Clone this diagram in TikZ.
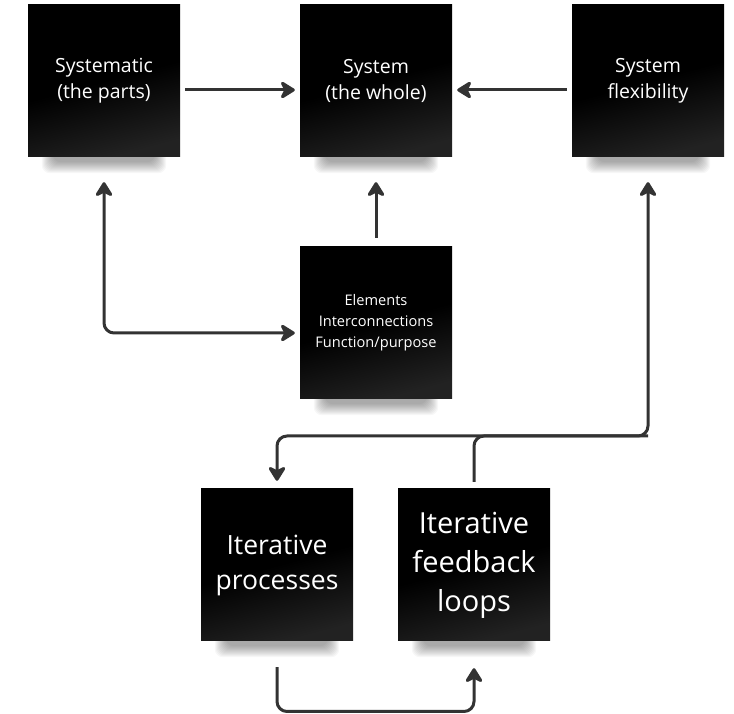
\documentclass[tikz,border=0pt]{standalone}
\usepackage{fontspec}
\setmainfont{Open Sans}
\usetikzlibrary{arrows.meta,calc}
\definecolor{arrc}{HTML}{333333}
\definecolor{boxlow}{HTML}{222222}
\tikzset{
  note/.style={minimum width=152pt, minimum height=152pt, inner sep=0pt,
    top color=black, bottom color=boxlow, middle color=black, shading angle=15,
    text=white, align=center, font=\fontsize{19.5}{26}\selectfont},
  tip/.style={-{Stealth[length=17pt,width=21pt,inset=5pt,round]}},
  arr/.style={draw=arrc, line width=3pt, rounded corners=10pt, tip},
  arrboth/.style={draw=arrc, line width=3pt, rounded corners=10pt,
    {Stealth[length=17pt,width=21pt,inset=5pt,round]}-{Stealth[length=17pt,width=21pt,inset=5pt,round]}},
  ghost/.style={minimum width=152pt, minimum height=152pt},
}
\newcommand{\notesh}[1]{%
  \foreach \k in {0,...,11}{%
    \fill[black, opacity=0.03, rounded corners=8pt]
      ($(#1.south west)+(14+\k,20)$) rectangle ($(#1.south east)+(-14-\k,-16+\k)$);
  }%
}
\begin{document}
\begin{tikzpicture}[x=1pt,y=1pt]
\useasboundingbox (0,0) rectangle (734,714);
\fill[white] (0,0) rectangle (734,714);
\coordinate (cparts) at (104,633);
\coordinate (cwhole) at (376,633);
\coordinate (cflex) at (648,633);
\coordinate (celem) at (376,391);
\coordinate (cproc) at (277,149);
\coordinate (cfb) at (474,149);
\node[ghost] (sparts) at (cparts) {};
\node[ghost] (swhole) at (cwhole) {};
\node[ghost] (sflex) at (cflex) {};
\node[ghost] (selem) at (celem) {};
\node[ghost] (sproc) at (cproc) {};
\node[ghost] (sfb) at (cfb) {};
\notesh{sparts}\notesh{swhole}\notesh{sflex}\notesh{selem}\notesh{sproc}\notesh{sfb}
% boxes
\node[note] (parts) at (cparts) {Systematic\\(the parts)};
\node[note] (whole) at (cwhole) {System\\(the whole)};
\node[note] (flex) at (cflex) {System\\flexibility};
\node[note, font=\fontsize{14.6}{21}\selectfont] (elem) at (celem) {Elements\\Interconnections\\Function/purpose};
\node[note, font=\fontsize{26.5}{35}\selectfont] (proc) at (cproc) {Iterative\\processes};
\node[note, font=\fontsize{29}{39}\selectfont] (fb) at (cfb) {Iterative\\feedback\\loops};
% connectors
\coordinate (j) at (0,278);
\coordinate (b) at (0,2.5);
\draw[arr] ([shift={(5,-9)}]parts.east) -- ([shift={(-5,-9)}]whole.west);
\draw[arr] ([shift={(-5,-9)}]flex.west) -- ([shift={(5,-9)}]whole.east);
\draw[arr] ([yshift=9]elem.north) -- ([yshift=-25]whole.south);
\draw[arrboth] ([yshift=-25]parts.south) |- ([shift={(-5,-10)}]elem.west);
\draw[arr] ([yshift=7]fb.north) |- (flex.south |- j) -- ([yshift=-25]flex.south);
\draw[arr] (flex.south |- j) -| ([yshift=8]proc.north);
\draw[arr] ([yshift=-26]proc.south) |- (fb.south |- b) -- ([yshift=-27]fb.south);
\end{tikzpicture}
\end{document}
